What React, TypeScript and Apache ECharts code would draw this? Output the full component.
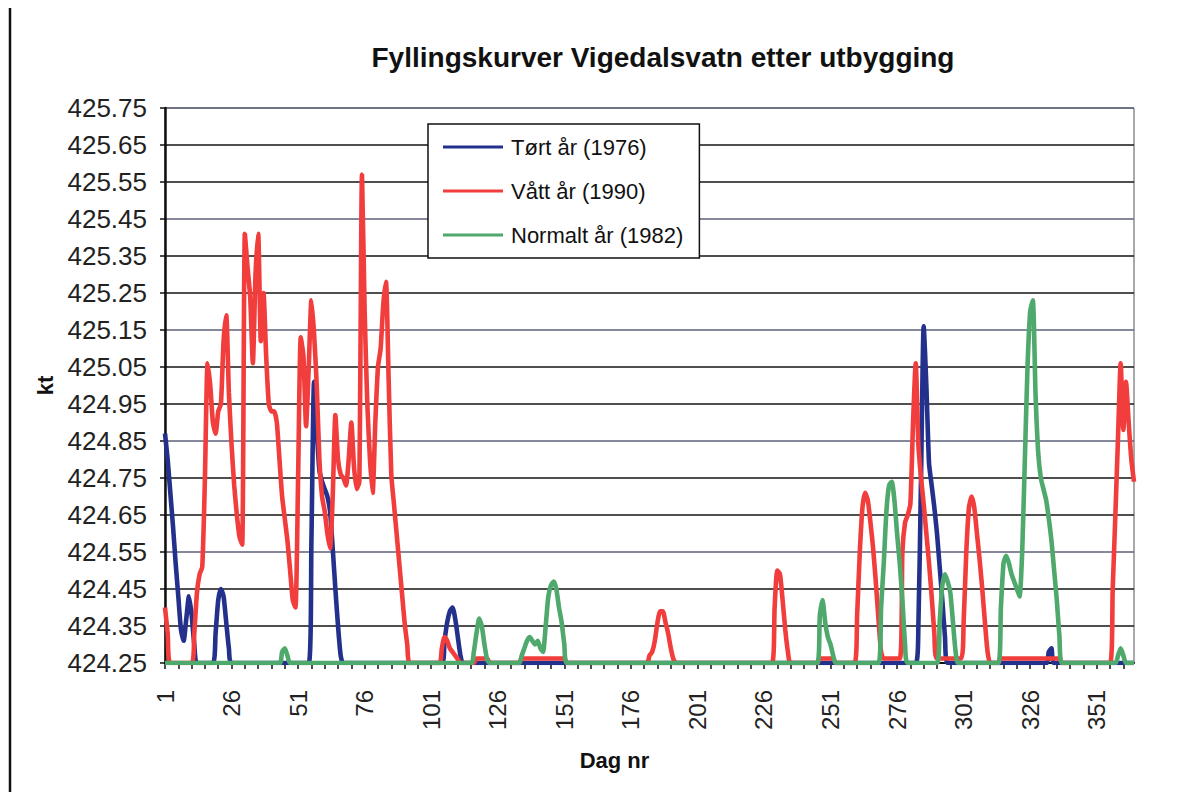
import { useEffect, useRef } from "react";
import * as echarts from "echarts";

const TITLE = "Fyllingskurver Vigedalsvatn etter utbygging";
const X_NAME = "Dag nr";
const Y_NAME = "kt";
const DAY_COUNT = 365;
const DAYS: string[] = Array.from({ length: DAY_COUNT }, (_, i) => String(i + 1));
const Y_MIN = 424.25;
const Y_MAX = 425.75;
const Y_STEP = 0.1;
const NAME_DRY = "Tørt år (1976)";
const NAME_WET = "Vått år (1990)";
const NAME_NORMAL = "Normalt år (1982)";

// [day, level]
const DRY_1976: [number, number][] = [
  [1, 424.87], [2, 424.8], [3, 424.71], [4, 424.62], [5, 424.52], [6, 424.43], [7, 424.34], [8, 424.31],
  [9, 424.37], [10, 424.43], [11, 424.38], [12, 424.3], [13, 424.25],
  [19, 424.25], [20, 424.33], [21, 424.42], [22, 424.45], [23, 424.43], [24, 424.36], [25, 424.29], [26, 424.25],
  [55, 424.25], [56, 424.58], [57, 425.01], [58, 424.88], [59, 424.77], [60, 424.74], [61, 424.72], [62, 424.7],
  [63, 424.66], [64, 424.56], [65, 424.45], [66, 424.35], [67, 424.27], [68, 424.25],
  [105, 424.25], [106, 424.31], [107, 424.36], [108, 424.39], [109, 424.4], [110, 424.37], [111, 424.32], [112, 424.27], [113, 424.25],
  [283, 424.25], [284, 424.35], [285, 424.75], [286, 425.16], [287, 425.0], [288, 424.79], [289, 424.73], [290, 424.67],
  [291, 424.6], [292, 424.51], [293, 424.42], [294, 424.32], [295, 424.25],
  [332, 424.25], [333, 424.28], [334, 424.29], [335, 424.25],
  [365, 424.25],
];

const WET_1990: [number, number][] = [
  [1, 424.4], [2, 424.33], [3, 424.25],
  [11, 424.25], [12, 424.33], [13, 424.44], [14, 424.49], [15, 424.51], [16, 424.75], [17, 425.06], [18, 425.0],
  [19, 424.9], [20, 424.87], [21, 424.93], [22, 424.95], [23, 425.12], [24, 425.19], [25, 424.98], [26, 424.84],
  [27, 424.73], [28, 424.65], [29, 424.59], [30, 424.57], [31, 425.41], [32, 425.32], [33, 425.24], [34, 425.06],
  [35, 425.3], [36, 425.41], [37, 425.12], [38, 425.25], [39, 425.08], [40, 424.95], [41, 424.93], [42, 424.93],
  [43, 424.9], [44, 424.8], [45, 424.7], [46, 424.64], [47, 424.58], [48, 424.5], [49, 424.42], [50, 424.4],
  [51, 424.75], [52, 425.13], [53, 425.08], [54, 424.89], [55, 425.05], [56, 425.23], [57, 425.14], [58, 425.0],
  [59, 424.8], [60, 424.7], [61, 424.66], [62, 424.6], [63, 424.56], [64, 424.7], [65, 424.92], [66, 424.8],
  [67, 424.76], [68, 424.75], [69, 424.73], [70, 424.8], [71, 424.9], [72, 424.78], [73, 424.72], [74, 424.74],
  [75, 425.57], [76, 425.2], [77, 424.95], [78, 424.8], [79, 424.71], [80, 424.9], [81, 425.05], [82, 425.1],
  [83, 425.22], [84, 425.28], [85, 425.02], [86, 424.76], [87, 424.68], [88, 424.6], [89, 424.52], [90, 424.44],
  [91, 424.36], [92, 424.3], [93, 424.25],
  [104, 424.25], [105, 424.29], [106, 424.32], [107, 424.31], [108, 424.29], [109, 424.28], [110, 424.27], [111, 424.26], [112, 424.25],
  [117, 424.25], [118, 424.262], [122, 424.262], [123, 424.25],
  [134, 424.25], [135, 424.262], [151, 424.262], [152, 424.25],
  [182, 424.25], [183, 424.27], [184, 424.28], [185, 424.31], [186, 424.36], [187, 424.39], [188, 424.39],
  [189, 424.36], [190, 424.33], [191, 424.29], [192, 424.26], [193, 424.25],
  [229, 424.25], [230, 424.4], [231, 424.5], [232, 424.49], [233, 424.42], [234, 424.34], [235, 424.28], [236, 424.25],
  [246, 424.25], [247, 424.262], [252, 424.262], [253, 424.25],
  [260, 424.25], [261, 424.38], [262, 424.55], [263, 424.67], [264, 424.71], [265, 424.69], [266, 424.63],
  [267, 424.56], [268, 424.47], [269, 424.37], [270, 424.28], [271, 424.262],
  [277, 424.262], [278, 424.55], [279, 424.63], [280, 424.65], [281, 424.68], [282, 424.9], [283, 425.06],
  [284, 424.84], [285, 424.75], [286, 424.68], [287, 424.6], [288, 424.52], [289, 424.43], [290, 424.33], [291, 424.262],
  [300, 424.262], [301, 424.36], [302, 424.55], [303, 424.67], [304, 424.7], [305, 424.67], [306, 424.6],
  [307, 424.53], [308, 424.45], [309, 424.36], [310, 424.28], [311, 424.25],
  [314, 424.25], [315, 424.262], [337, 424.262], [338, 424.25],
  [356, 424.25], [357, 424.45], [358, 424.65], [359, 424.86], [360, 425.06], [361, 424.88], [362, 425.01],
  [363, 424.9], [364, 424.8], [365, 424.74],
];

const NORMAL_1982: [number, number][] = [
  [1, 424.25], [44, 424.25], [45, 424.28], [46, 424.29], [47, 424.27], [48, 424.25],
  [116, 424.25], [117, 424.28], [118, 424.33], [119, 424.37], [120, 424.35], [121, 424.3], [122, 424.26], [123, 424.25],
  [134, 424.25], [135, 424.27], [136, 424.29], [137, 424.31], [138, 424.32], [139, 424.31], [140, 424.3],
  [141, 424.31], [142, 424.29], [143, 424.28], [144, 424.35], [145, 424.43], [146, 424.46], [147, 424.47],
  [148, 424.45], [149, 424.4], [150, 424.36], [151, 424.3], [152, 424.25],
  [246, 424.25], [247, 424.38], [248, 424.42], [249, 424.36], [250, 424.32], [251, 424.3], [252, 424.27], [253, 424.25],
  [269, 424.25], [270, 424.4], [271, 424.52], [272, 424.66], [273, 424.73], [274, 424.74], [275, 424.69],
  [276, 424.6], [277, 424.52], [278, 424.42], [279, 424.3], [280, 424.25],
  [291, 424.25], [292, 424.36], [293, 424.46], [294, 424.49], [295, 424.47], [296, 424.44], [297, 424.36], [298, 424.28], [299, 424.25],
  [314, 424.25], [315, 424.4], [316, 424.52], [317, 424.54], [318, 424.52], [319, 424.49], [320, 424.47],
  [321, 424.45], [322, 424.43], [323, 424.55], [324, 424.8], [325, 425.05], [326, 425.2], [327, 425.23],
  [328, 424.98], [329, 424.82], [330, 424.75], [331, 424.72], [332, 424.69], [333, 424.64], [334, 424.58],
  [335, 424.5], [336, 424.42], [337, 424.32], [338, 424.25],
  [358, 424.25], [359, 424.27], [360, 424.29], [361, 424.27], [362, 424.25], [365, 424.25],
];

const FONT = "'Liberation Sans', Arial, sans-serif";

function toSeriesData(points: [number, number][]) {
  // category index (day-1), level relative to axis bottom
  return points.map(([day, v]) => [day - 1, +(v - Y_MIN).toFixed(4)]);
}

export default function App() {
  const ref = useRef<HTMLDivElement>(null);

  useEffect(() => {
    if (!ref.current) return;
    const chart = echarts.init(ref.current, undefined, { renderer: "svg" });
    const lineSeries = (name: string, data: [number, number][], color: string) => ({
      name,
      type: "line",
      data: toSeriesData(data),
      showSymbol: false,
      symbol: "none",
      smooth: 0.2,
      color,
      lineStyle: { width: 4.6, color },
      clip: true,
    });
    chart.setOption({
      animation: false,
      backgroundColor: "#ffffff",
      title: {
        text: TITLE,
        left: 658,
        top: 38,
        textAlign: "center",
        textStyle: { fontFamily: FONT, fontSize: 28, fontWeight: "bold", color: "#111" },
      },
      legend: {
        orient: "vertical",
        left: 428,
        top: 124,
        icon: "rect",
        itemWidth: 60,
        itemHeight: 3,
        itemGap: 22,
        padding: [12, 16, 12, 15],
        backgroundColor: "#ffffff",
        borderColor: "#111",
        borderWidth: 1.5,
        borderRadius: 0,
        textStyle: { fontFamily: FONT, fontSize: 22, color: "#111", padding: [0, 0, 0, 3] },
        data: [NAME_DRY, NAME_WET, NAME_NORMAL],
      },
      grid: {
        left: 165,
        right: 64,
        top: 108,
        bottom: 139,
        show: true,
        borderColor: "#555",
        borderWidth: 1,
        backgroundColor: "transparent",
      },
      xAxis: {
        type: "category",
        data: DAYS,
        boundaryGap: false,
        name: X_NAME,
        nameLocation: "middle",
        nameGap: 86,
        nameTextStyle: { fontFamily: FONT, fontSize: 22, fontWeight: "bold", color: "#111", padding: [0, 70, 0, 0] },
        axisLine: { show: true, lineStyle: { color: "#111", width: 2 } },
        axisTick: { show: true, interval: (i: number) => i % 5 === 0, length: 6, lineStyle: { color: "#111", width: 1.5 } },
        axisLabel: {
          interval: (i: number) => i % 25 === 0,
          rotate: 90,
          margin: 27,
          fontFamily: FONT,
          fontSize: 24,
          color: "#222",
        },
        splitLine: { show: false },
      },
      yAxis: {
        type: "value",
        min: 0,
        max: +(Y_MAX - Y_MIN).toFixed(2),
        interval: Y_STEP,
        name: Y_NAME,
        nameLocation: "middle",
        nameGap: 108,
        nameTextStyle: { fontFamily: FONT, fontSize: 22, fontWeight: "bold", color: "#111" },
        axisLine: { show: true, lineStyle: { color: "#111", width: 2.5 } },
        axisTick: { show: true, length: 5, lineStyle: { color: "#111", width: 1.5 } },
        axisLabel: {
          margin: 18,
          fontFamily: FONT,
          fontSize: 26,
          color: "#222",
          formatter: (v: number) => (v + Y_MIN).toFixed(2),
        },
        splitLine: {
          show: true,
          lineStyle: { color: ["#5d6178", "#151515", "#151515"], width: 1.6 },
        },
      },
      graphic: [
        {
          type: "line",
          shape: { x1: 10, y1: 8, x2: 10, y2: 792 },
          style: { stroke: "#111", lineWidth: 2.5 },
        },
      ],
      series: [
        lineSeries(NAME_DRY, DRY_1976, "#24318c"),
        lineSeries(NAME_WET, WET_1990, "#f23d3d"),
        lineSeries(NAME_NORMAL, NORMAL_1982, "#4fa86c"),
      ],
    });
    return () => chart.dispose();
  }, []);

  return (
    <div
      ref={ref}
      style={{ position: "absolute", left: 0, top: 0, width: 1198, height: 802, background: "#fff" }}
    />
  );
}
